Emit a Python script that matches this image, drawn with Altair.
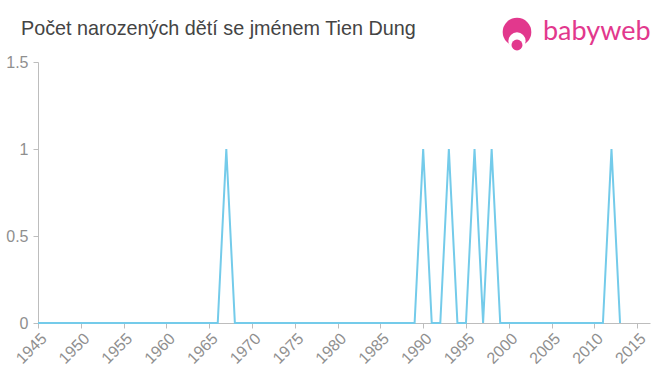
import altair as alt
import pandas as pd

# Data
years = list(range(1945, 2014))
counts = [
    0, 0, 0, 0, 0, 0, 0, 0, 0, 0,   # 1945-1954
    0, 0, 0, 0, 0, 0, 0, 0, 0, 0,   # 1955-1964
    0, 0, 1, 0, 0, 0, 0, 0, 0, 0,   # 1965-1974
    0, 0, 0, 0, 0, 0, 0, 0, 0, 0,   # 1975-1984
    0, 0, 0, 0, 0, 1, 0, 0, 1, 0,   # 1985-1994
    0, 1, 0, 1, 0, 0, 0, 0, 0, 0,   # 1995-2004
    0, 0, 0, 0, 0, 0, 0, 1, 0,      # 2005-2013
]
x_ticks = [1945, 1950, 1955, 1960, 1965, 1970, 1975, 1980, 1985, 1990,
           1995, 2000, 2005, 2010, 2015]
y_ticks = [0, 0.5, 1, 1.5]
title_text = ["Počet narozených dětí se jménem Tien Dung"]
logo_text = ["babyweb"]

df = pd.DataFrame({"year": years, "count": counts})

PINK = "#e2388d"
LABEL = "#8f8f8f"
AXIS = "#bdbdbd"

line = alt.Chart(df).mark_line(color="#74cbea", strokeWidth=2, clip=False).encode(
    x=alt.X(
        "year:Q",
        scale=alt.Scale(domain=[1945, 2016.5], nice=False, zero=False),
        axis=alt.Axis(
            values=x_ticks, format="d", labelAngle=-45, title=None, grid=False,
            labelFontSize=16, labelColor=LABEL, labelFont="Liberation Sans",
            domainColor=AXIS, tickColor=AXIS, tickSize=5, labelPadding=2,
            labelOverlap=False,
        ),
    ),
    y=alt.Y(
        "count:Q",
        scale=alt.Scale(domain=[0, 1.5], nice=False),
        axis=alt.Axis(
            values=y_ticks, format="~g", title=None, grid=False,
            labelFontSize=16, labelColor=LABEL, labelFont="Liberation Sans",
            domainColor=AXIS, tickColor=AXIS, tickSize=5, labelPadding=5,
        ),
    ),
)

title = alt.Chart(pd.DataFrame({"t": title_text})).mark_text(
    align="left", baseline="alphabetic", fontSize=19.8, color="#444444",
    font="Liberation Sans",
).encode(x=alt.value(-17), y=alt.value(-27), text="t:N")

logo = alt.Chart(pd.DataFrame({"t": logo_text})).mark_text(
    align="left", baseline="alphabetic", fontSize=27, color=PINK,
    font="Lato",
).encode(x=alt.value(505), y=alt.value(-22), text="t:N")

icon_df = pd.DataFrame({"k": ["a"]})
head = alt.Chart(icon_df).mark_circle(size=820, color=PINK, opacity=1).encode(
    x=alt.value(479), y=alt.value(-30))
face = alt.Chart(icon_df).mark_circle(size=300, color="white", opacity=1).encode(
    x=alt.value(479), y=alt.value(-21))
mouth = alt.Chart(icon_df).mark_circle(size=120, color=PINK, opacity=1).encode(
    x=alt.value(479), y=alt.value(-17))

chart = alt.layer(line, title, head, face, mouth, logo).properties(
    width=612,
    height=261,
    autosize=alt.AutoSizeParams(type="none"),
    padding={"left": 38, "top": 62, "right": 10, "bottom": 52},
).configure_view(stroke=None)

chart.save("out.html", embed_options={"renderer": "svg", "actions": False})
